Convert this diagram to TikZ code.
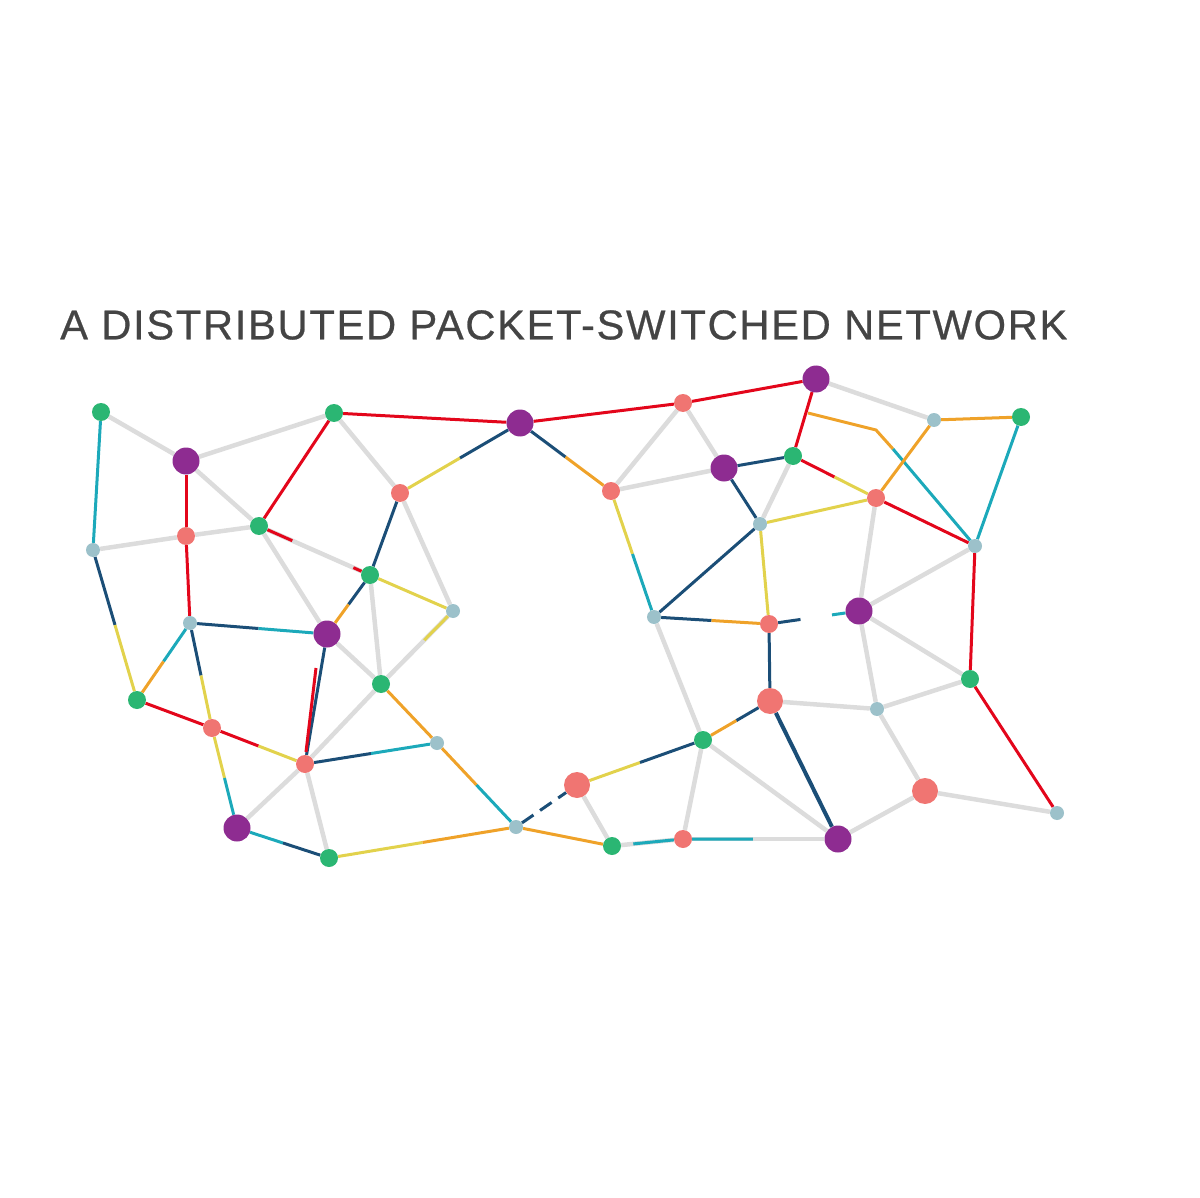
\documentclass[tikz,border=0pt]{standalone}
\usepackage{fontspec}
\setmainfont{Liberation Sans}
\usetikzlibrary{calc}
\pgfdeclarelayer{background}
\pgfsetlayers{background,main}
\definecolor{cgreen}{HTML}{2BB673}
\definecolor{cpurple}{HTML}{8E2C91}
\definecolor{csalmon}{HTML}{F07572}
\definecolor{cgrey}{HTML}{9CC1CA}
\definecolor{cred}{HTML}{E3061B}
\definecolor{cnavy}{HTML}{1B4E77}
\definecolor{cteal}{HTML}{1CA9BA}
\definecolor{cyel}{HTML}{E2D24C}
\definecolor{corange}{HTML}{EFA229}
\definecolor{cedge}{HTML}{DCDCDC}
\definecolor{ctitle}{HTML}{444444}
\tikzset{
 dot/.style={circle,inner sep=0pt,draw=none},
 gn/.style={dot,fill=cgreen,minimum size=18pt},
 pn/.style={dot,fill=cpurple,minimum size=27pt},
 sn/.style={dot,fill=csalmon,minimum size=18pt},
 sb/.style={dot,fill=csalmon,minimum size=26pt},
 bn/.style={dot,fill=cgrey,minimum size=14pt},
 ge/.style={draw=cedge,line width=4.5pt},
 ce/.style={line width=3pt},
}
\newcommand{\two}[4]{\draw[ce,#3] (#1) -- ($(#1)!.5!(#2)$); \draw[ce,#4] ($(#1)!.5!(#2)$) -- (#2);}
\begin{document}
\begin{tikzpicture}[x=1pt,y=-1pt]
\useasboundingbox (0,0) rectangle (1200,1198);
\node[anchor=west,text=ctitle,inner sep=0pt] (title) at (60,325) {\resizebox{1007pt}{!}{\addfontfeatures{LetterSpace=4,FakeBold=0.6}A DISTRIBUTED PACKET-SWITCHED NETWORK}};
% nodes
\node[gn] (g1) at (101,412) {};
\node[pn] (p1) at (186,461) {};
\node[gn] (g2) at (334,413) {};
\node[sn] (s1) at (186,536) {};
\node[bn] (b1) at (93,550) {};
\node[gn] (g3) at (259,526) {};
\node[sn] (s2) at (400,493) {};
\node[gn] (g4) at (370,575) {};
\node[bn] (b2) at (453,611) {};
\node[bn] (b3) at (190,623) {};
\node[pn] (p2) at (327,634) {};
\node[gn] (g5) at (381,684) {};
\node[gn] (g6) at (137,700) {};
\node[sn] (s3) at (212,728) {};
\node[sn] (s4) at (305,764) {};
\node[bn] (b4) at (437,743) {};
\node[pn] (p3) at (237,828) {};
\node[gn] (g7) at (329,858) {};
\node[pn] (p4) at (520,423) {};
\node[sn] (s5) at (683,403) {};
\node[pn] (p5) at (816,379) {};
\node[sn] (s6) at (611,491) {};
\node[pn] (p6) at (724,468) {};
\node[gn] (g8) at (793,456) {};
\node[bn] (b5) at (760,524) {};
\node[bn] (b6) at (654,617) {};
\node[sn] (s7) at (769,624) {};
\node[sb] (s8) at (770,701) {};
\node[gn] (g9) at (703,740) {};
\node[sb] (s9) at (577,785) {};
\node[bn] (b7) at (516,827) {};
\node[gn] (g10) at (612,846) {};
\node[sn] (s10) at (683,839) {};
\node[pn] (p7) at (838,839) {};
\node[bn] (b8) at (934,420) {};
\node[gn] (g11) at (1021,417) {};
\node[sn] (s11) at (876,498) {};
\node[bn] (b9) at (975,546) {};
\node[pn] (p8) at (859,611) {};
\node[gn] (g12) at (970,679) {};
\node[bn] (b10) at (877,709) {};
\node[sb] (s12) at (925,791) {};
\node[bn] (b11) at (1057,813) {};
\coordinate (k1) at (808,413);
\coordinate (k2) at (876,430);
\coordinate (k3) at (893,449);
\coordinate (r1) at (316,668);
\coordinate (r2) at (306,752);
\begin{pgfonlayer}{background}
% grey edges
\foreach \a/\b in {g1/p1,p1/g2,g2/s2,p1/g3,s1/b1,s1/g3,g3/g4,g3/p2,s2/b2,b2/g5,g4/g5,p2/g5,s4/g5,s4/p3,s4/g7,s9/g10,g9/s10,g9/p7,g10/s10,s10/p7,s8/b10,b6/g9,s6/s5,s6/p6,s5/p6,g8/b5,p5/b8,s11/p8,b9/p8,p8/g12,p8/b10,g12/b10,b10/s12,s12/b11,s12/p7}
  \draw[ge] (\a) -- (\b);
% coloured edges
\draw[ce,cteal] (g1) -- (b1);
\draw[ce,cred] (g2) -- (g3);
\draw[ce,cred] (g2) -- (p4);
\draw[ce,cred] (p1) -- (s1);
\draw[ce,cred] (s1) -- (b3);
\draw[ce,cred] (g3) -- ($(g3)!.3!(g4)$);
\draw[ce,cred] ($(g3)!.85!(g4)$) -- (g4);
\two{s2}{p4}{cyel}{cnavy}
\draw[ce,cnavy] (s2) -- (g4);
\draw[ce,cyel] (g4) -- (b2);
\draw[ce,cyel] (b2) -- ($(b2)!.4!(g5)$);
\two{g4}{p2}{cnavy}{corange}
\two{b1}{g6}{cnavy}{cyel}
\two{b3}{p2}{cnavy}{cteal}
\two{b3}{g6}{cteal}{corange}
\two{b3}{s3}{cnavy}{cyel}
\draw[ce,cred] (g6) -- (s3);
\two{s3}{s4}{cred}{cyel}
\two{s3}{p3}{cyel}{cteal}
\draw[ce,cnavy] (p2) -- (s4);
\draw[ce,cred] (r1) -- (r2);
\two{s4}{b4}{cnavy}{cteal}
\two{p3}{g7}{cteal}{cnavy}
\two{g7}{b7}{cyel}{corange}
\draw[ce,corange] (g5) -- (b4);
\two{b4}{b7}{corange}{cteal}
\draw[ce,cnavy,dash pattern=on 14pt off 8pt] (b7) -- (s9);
\draw[ce,corange] (b7) -- (g10);
\two{s9}{g9}{cyel}{cnavy}
\two{g9}{s8}{corange}{cnavy}
\draw[ce,cteal] ($(g10)!.3!(s10)$) -- (s10) -- ($(s10)!.45!(p7)$);
\draw[ce,cnavy,line width=4pt] (s8) -- (p7);
\draw[ce,cnavy] (s8) -- (s7);
\two{b6}{s7}{cnavy}{corange}
\draw[ce,cyel] (s7) -- (b5);
\draw[ce,cnavy] (s7) -- ($(s7)!.35!(p8)$);
\draw[ce,cteal] ($(s7)!.7!(p8)$) -- (p8);
\draw[ce,cnavy] (b6) -- (b5);
\two{s6}{b6}{cyel}{cteal}
\two{p4}{s6}{cnavy}{corange}
\draw[ce,cred] (p4) -- (s5);
\draw[ce,cred] (s5) -- (p5);
\draw[ce,cnavy] (p6) -- (g8);
\draw[ce,cnavy] (p6) -- (b5);
\draw[ce,cred] (p5) -- (g8);
\draw[ce,corange] (b8) -- (g11);
\draw[ce,cteal] (g11) -- (b9);
\draw[ce,corange] (k1) -- (k2) -- (k3);
\draw[ce,cteal] (k3) -- (b9);
\two{g8}{s11}{cred}{cyel}
\draw[ce,cyel] (b5) -- (s11);
\draw[ce,corange] (s11) -- (b8);
\draw[ce,cred] (s11) -- (b9);
\draw[ce,cred] (b9) -- (g12);
\draw[ce,cred] (g12) -- (b11);
\end{pgfonlayer}
\end{tikzpicture}
\end{document}
